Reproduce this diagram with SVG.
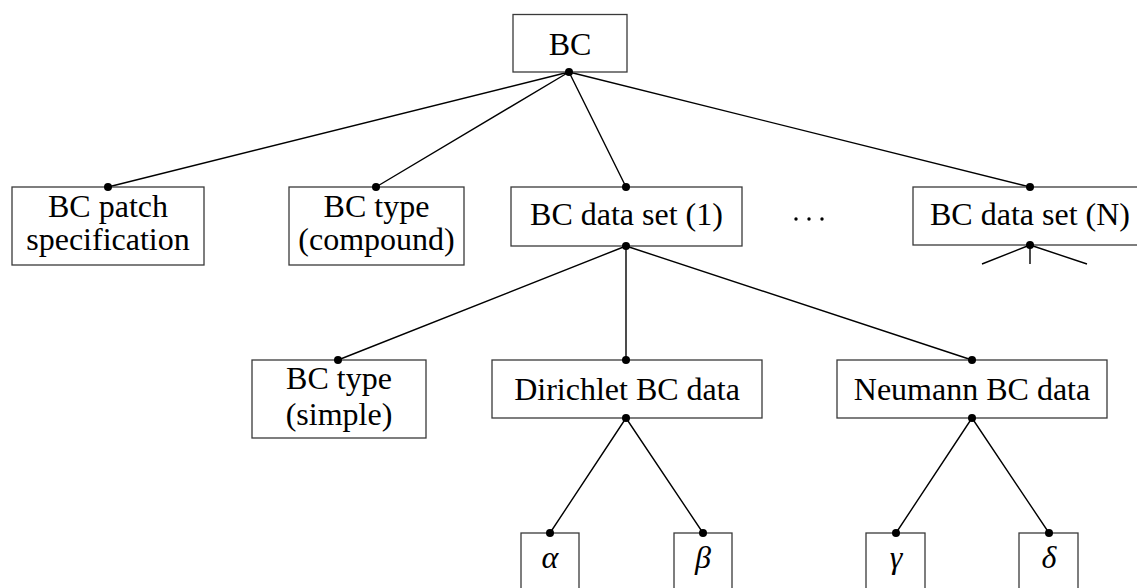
<svg xmlns="http://www.w3.org/2000/svg" width="1137" height="588" viewBox="0 0 1137 588">
<style>
.box{fill:#fff;stroke:#3a3a3a;stroke-width:1.3}
.t{font-family:"Liberation Serif","Times New Roman",serif;font-size:32px;fill:#000;text-anchor:middle}
.m{font-style:italic}
.c{stroke:#000;stroke-width:1.4;fill:none}
.d{fill:#000}
</style>
<rect width="1137" height="588" fill="#fff"/>
<g id="connectors">
<path class="c" d="M569 72L108 187M569 72L376 187M569 72L626 187M569 72L1030 187"/>
<path class="c" d="M626 246L338 360M626 246L626 360M626 246L972 360"/>
<path class="c" d="M1030 245L982 264M1030 245L1030 264M1030 245L1087 264"/>
<path class="c" d="M626 418L550 533M626 418L703 533M972 418L896 533M972 418L1049 533"/>
</g>
<g id="n-bc"><rect class="box" x="513" y="14.5" width="114" height="57.5"/><text class="t" x="570" y="55">BC</text></g>
<g id="n-patch"><rect class="box" x="12" y="187" width="192" height="78"/><text class="t" x="108" y="217">BC patch</text><text class="t" x="108" y="250">specification</text></g>
<g id="n-typec"><rect class="box" x="289" y="187" width="175" height="78"/><text class="t" x="376.5" y="217">BC type</text><text class="t" x="376.5" y="250">(compound)</text></g>
<g id="n-ds1"><rect class="box" x="511" y="187" width="231" height="59"/><text class="t" x="626.5" y="225">BC data set (1)</text></g>
<g id="ellipsis"><circle class="d" cx="796" cy="219" r="1.7"/><circle class="d" cx="809" cy="219" r="1.7"/><circle class="d" cx="822" cy="219" r="1.7"/></g>
<g id="n-dsn"><rect class="box" x="913" y="187" width="240" height="58"/><text class="t" x="1030" y="225">BC data set (N)</text></g>
<g id="n-types"><rect class="box" x="252" y="360" width="174" height="78"/><text class="t" x="339" y="389">BC type</text><text class="t" x="339" y="425">(simple)</text></g>
<g id="n-dir"><rect class="box" x="492" y="360" width="270" height="58"/><text class="t" x="627" y="400">Dirichlet BC data</text></g>
<g id="n-neu"><rect class="box" x="837" y="360" width="270" height="58"/><text class="t" x="972" y="400">Neumann BC data</text></g>
<g id="n-alpha"><rect class="box" x="521" y="533" width="58" height="70"/><text class="t m" x="550" y="568">α</text></g>
<g id="n-beta"><rect class="box" x="674" y="533" width="58" height="70"/><text class="t m" x="703" y="568">β</text></g>
<g id="n-gamma"><rect class="box" x="866" y="533" width="59" height="70"/><text class="t m" x="896" y="568">γ</text></g>
<g id="n-delta"><rect class="box" x="1019" y="533" width="59" height="70"/><text class="t m" x="1049" y="568">δ</text></g>
<g id="dots">
<circle class="d" cx="569" cy="72" r="4"/>
<circle class="d" cx="108" cy="187" r="4"/><circle class="d" cx="376" cy="187" r="4"/><circle class="d" cx="626" cy="187" r="4"/><circle class="d" cx="1030" cy="187" r="4"/>
<circle class="d" cx="626" cy="246" r="4"/><circle class="d" cx="1030" cy="245" r="4"/>
<circle class="d" cx="338" cy="360" r="4"/><circle class="d" cx="626" cy="360" r="4"/><circle class="d" cx="972" cy="360" r="4"/>
<circle class="d" cx="626" cy="418" r="4"/><circle class="d" cx="972" cy="418" r="4"/>
<circle class="d" cx="550" cy="533" r="4"/><circle class="d" cx="703" cy="533" r="4"/><circle class="d" cx="896" cy="533" r="4"/><circle class="d" cx="1049" cy="533" r="4"/>
</g>
</svg>
